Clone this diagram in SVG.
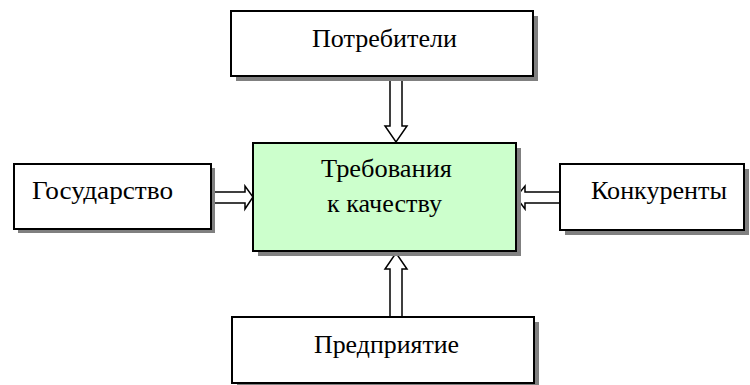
<svg xmlns="http://www.w3.org/2000/svg" width="750" height="385" viewBox="0 0 750 385">
<style>
.box{fill:#fff;stroke:#000;stroke-width:2}
.main{fill:#ccffcc;stroke:#000;stroke-width:2}
.sh{fill:#808080}
.t{font-family:"Liberation Serif","Times New Roman",serif;font-size:25px;fill:#000;text-anchor:middle}
.ar{fill:#fff;stroke:#000;stroke-width:1.5;stroke-linejoin:miter}
</style>
<rect width="750" height="385" fill="#fff"/>
<g id="connectors">
<path class="ar" d="M390,80 L402,80 L402,126 L407,126 L396,142 L385,126 L390,126 Z"/>
<path class="ar" d="M390,317 L402,317 L402,269 L407,269 L396,253 L385,269 L390,269 Z"/>
<path class="ar" d="M213,192 L245,192 L245,186 L253,197 L245,209 L245,203 L213,203 Z"/>
<path class="ar" d="M560,192 L525,192 L525,186 L516,197 L525,209 L525,203 L560,203 Z"/>
</g>
<g id="potrebiteli">
<rect class="sh" x="236" y="16" width="302" height="65"/>
<rect class="box" x="231" y="11" width="302" height="65"/>
<text class="t" x="384.5" y="47" textLength="145" lengthAdjust="spacingAndGlyphs">Потребители</text>
</g>
<g id="trebovaniya">
<rect class="sh" x="258" y="148" width="263" height="108"/>
<rect class="main" x="253" y="143" width="263" height="108"/>
<text class="t" x="386.5" y="177" textLength="131" lengthAdjust="spacingAndGlyphs">Требования</text>
<text class="t" x="384.5" y="212" textLength="115" lengthAdjust="spacingAndGlyphs">к качеству</text>
</g>
<g id="gosudarstvo">
<rect class="sh" x="18" y="168" width="197" height="65"/>
<rect class="box" x="14" y="164" width="197" height="65"/>
<text class="t" x="102.5" y="199" textLength="141" lengthAdjust="spacingAndGlyphs">Государство</text>
</g>
<g id="konkurenty">
<rect class="sh" x="565" y="169" width="184" height="66"/>
<rect class="box" x="560" y="164" width="184" height="66"/>
<text class="t" x="659" y="199" textLength="136" lengthAdjust="spacingAndGlyphs">Конкуренты</text>
</g>
<g id="predpriyatie">
<rect class="sh" x="237" y="322" width="302" height="66"/>
<rect class="box" x="232" y="317" width="302" height="66"/>
<text class="t" x="386.5" y="353" textLength="145" lengthAdjust="spacingAndGlyphs">Предприятие</text>
</g>
</svg>
